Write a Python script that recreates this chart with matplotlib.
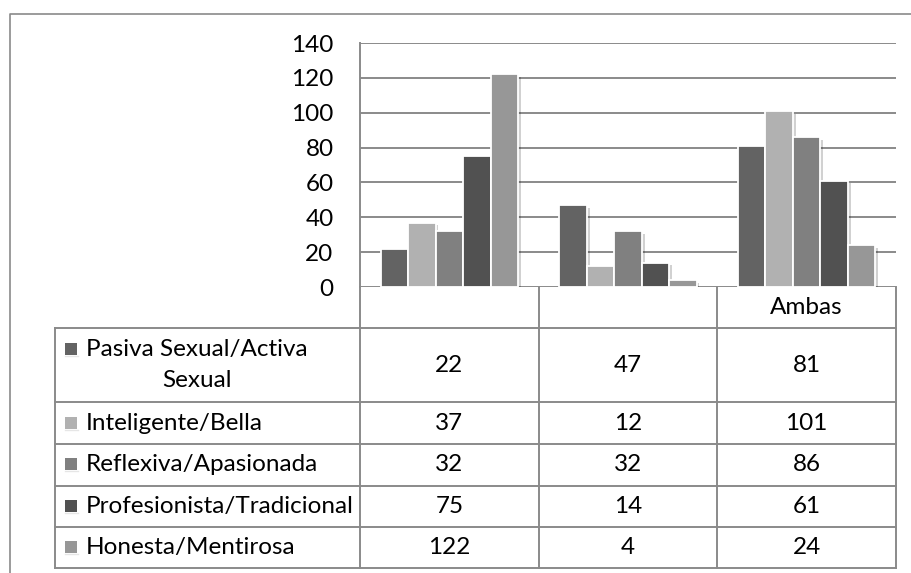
import textwrap
import matplotlib
matplotlib.use("Agg")
import matplotlib.pyplot as plt
import matplotlib.patheffects as pe
from matplotlib.lines import Line2D
from matplotlib.patches import Rectangle
import numpy as np

plt.rcParams['font.family'] = ['Lato', 'DejaVu Sans']

categories = ["", "", "Ambas"]
series_names = [
    "Pasiva Sexual/Activa Sexual",
    "Inteligente/Bella",
    "Reflexiva/Apasionada",
    "Profesionista/Tradicional",
    "Honesta/Mentirosa",
]
pasiva_activa = [22, 47, 81]
inteligente_bella = [37, 12, 101]
reflexiva_apasionada = [32, 32, 86]
profesionista_tradicional = [75, 14, 61]
honesta_mentirosa = [122, 4, 24]
series_values = [pasiva_activa, inteligente_bella, reflexiva_apasionada,
                 profesionista_tradicional, honesta_mentirosa]
series_colors = ["#636363", "#b1b1b1", "#808080", "#515151", "#979797"]
y_ticks = [0, 20, 40, 60, 80, 100, 120, 140]

W, H = 912, 573
fig = plt.figure(figsize=(W / 100, H / 100), dpi=100)
fig.patch.set_facecolor("white")

# pixel-space overlay for the frame and the data table
ov = fig.add_axes([0, 0, 1, 1], zorder=0)
ov.set_xlim(0, W)
ov.set_ylim(H, 0)
ov.axis("off")

grid_c = "#8a8a8a"
FS = 17.5

# plot area
px0, px1, py_top, py_zero = 360, 896, 43, 287
ax = fig.add_axes([px0 / W, 1 - py_zero / H, (px1 - px0) / W, (py_zero - py_top) / H], zorder=2)
ax.set_facecolor("none")
ax.set_xlim(-0.5, len(categories) - 0.5)
ax.set_ylim(0, 140)
ax.set_yticks(y_ticks)
ax.set_yticklabels([str(t) for t in y_ticks], fontsize=FS)
ax.tick_params(axis="y", length=0, pad=19, colors="black")
ax.set_xticks([])
ax.grid(axis="y", color=grid_c, linewidth=1.4)
ax.set_axisbelow(True)
for s in ["top", "right", "bottom"]:
    ax.spines[s].set_visible(False)
ax.spines["left"].set_color(grid_c)
ax.spines["left"].set_linewidth(1.4)

n = len(series_values)
gap = 1.5
w = 1.0 / (n + gap)
x = np.arange(len(categories))
shadow = [pe.SimplePatchShadow(offset=(2, -2), shadow_rgbFace="#000000", alpha=0.18), pe.Normal()]
for i, (vals, col) in enumerate(zip(series_values, series_colors)):
    offs = (i - (n - 1) / 2) * w
    bars = ax.bar(x + offs, vals, width=w, color=col, edgecolor="white", linewidth=1.3, zorder=3)
    for b in bars:
        b.set_path_effects(shadow)

# column boundaries derived from the category axis
fig.canvas.draw()
def to_px(xd):
    disp = ax.transData.transform((xd, 0))
    return ov.transData.inverted().transform(disp)[0]
col_edges = [to_px(v) for v in np.arange(-0.5, len(categories), 1.0)]
col_centers = [to_px(v) for v in x]

# outer chart frame
ov.add_line(Line2D([10, 10, W], [H, 13.5, 13.5], color=grid_c, linewidth=1.2))

# data table geometry
tbl_left = 55
row_edges = [287, 328, 402, 444, 485.5, 527, 568]
lw = 1.4
for xe in col_edges:
    ov.add_line(Line2D([xe, xe], [row_edges[0], row_edges[-1]], color=grid_c, linewidth=lw))
ov.add_line(Line2D([tbl_left, tbl_left], [row_edges[1], row_edges[-1]], color=grid_c, linewidth=lw))
for ye in row_edges[1:]:
    ov.add_line(Line2D([tbl_left, col_edges[-1]], [ye, ye], color=grid_c, linewidth=lw))

hdr_y = (row_edges[0] + row_edges[1]) / 2
for cx, cat in zip(col_centers, categories):
    ov.text(cx, hdr_y, cat, ha="center", va="center", fontsize=FS)

for r, (name, vals, col) in enumerate(zip(series_names, series_values, series_colors)):
    y0, y1 = row_edges[r + 1], row_edges[r + 2]
    yc = (y0 + y1) / 2
    label = textwrap.fill(name, 20, break_long_words=False)
    nlines = label.count("\n") + 1
    line_h = 32
    first_y = yc - (nlines - 1) * line_h / 2
    ov.add_patch(Rectangle((65, first_y - 6.5), 12, 12, facecolor=col, edgecolor="none"))
    ov.add_line(Line2D([65, 78], [first_y + 6.5, first_y + 6.5], color="#e6e6e6", linewidth=1))
    ov.text(86, yc, label, ha="left", va="center", multialignment="center",
            fontsize=FS, linespacing=1.62)
    for cx, v in zip(col_centers, vals):
        ov.text(cx, yc, str(v), ha="center", va="center", fontsize=FS)

fig.savefig("out.png", dpi=100, facecolor="white")
